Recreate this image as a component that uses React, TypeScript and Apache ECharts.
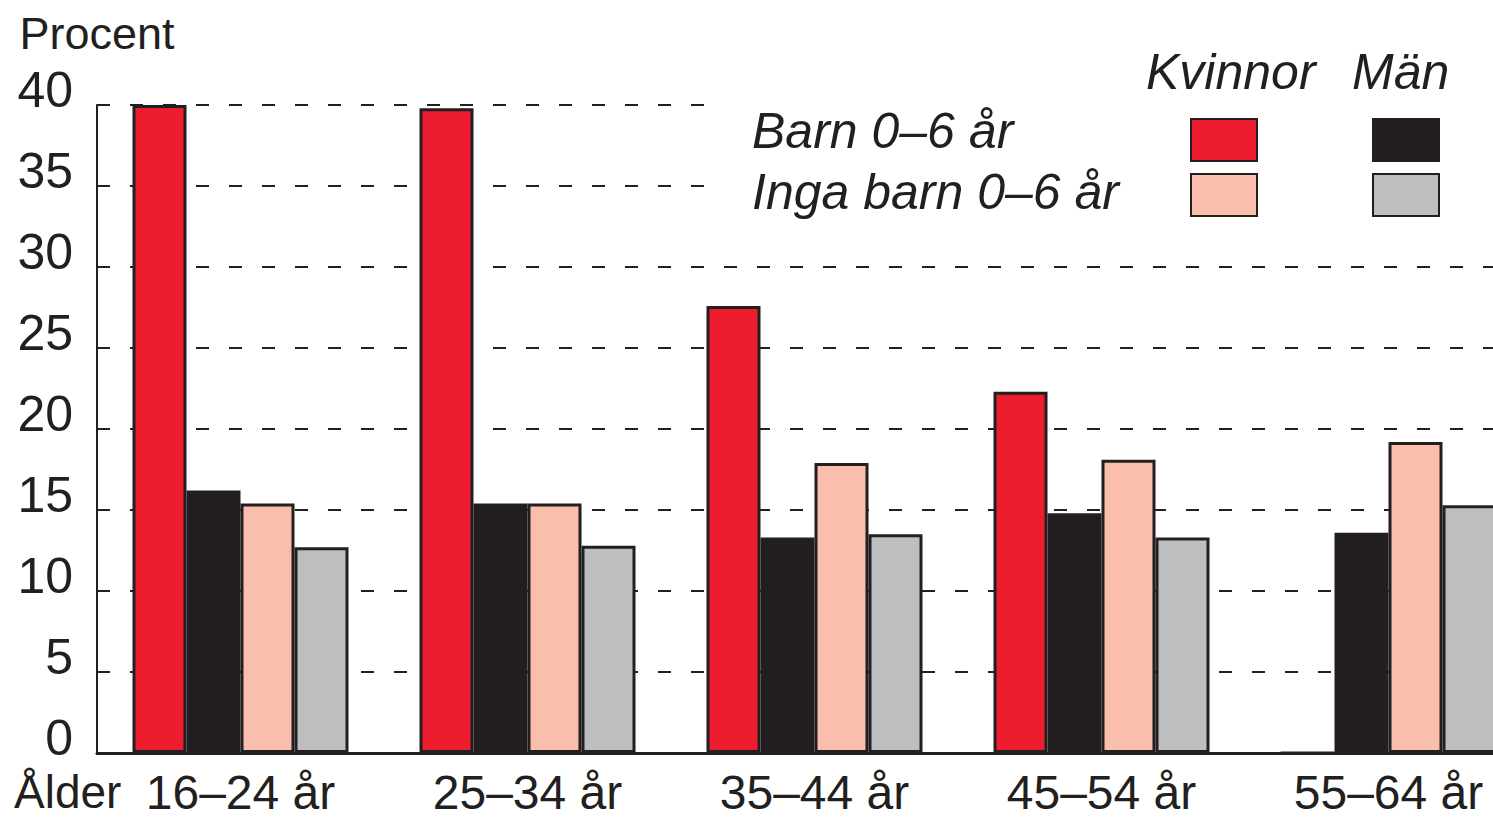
import React, { useEffect, useRef } from "react";
import * as echarts from "echarts";

const categories = ["16–24 år", "25–34 år", "35–44 år", "45–54 år", "55–64 år"];
const kvinnorBarn = [40, 39.8, 27.6, 22.3, 0];
const manBarn = [16.2, 15.4, 13.3, 14.8, 13.6];
const kvinnorIngaBarn = [15.4, 15.4, 17.9, 18.1, 19.2];
const manIngaBarn = [12.7, 12.8, 13.5, 13.3, 15.3];
const seriesNames = ["Kvinnor, barn 0–6 år", "Män, barn 0–6 år", "Kvinnor, inga barn 0–6 år", "Män, inga barn 0–6 år"];

const FONT = "'Liberation Sans', Arial, Helvetica, sans-serif";
const INK = "#231f20";
const COLORS = ["#ed1c2e", "#231f20", "#f9bfac", "#bcbec0"];

export default function App() {
  const ref = useRef<HTMLDivElement>(null);
  useEffect(() => {
    if (!ref.current) return;
    const chart = echarts.init(ref.current, null, { renderer: "svg" });
    const datasets = [kvinnorBarn, manBarn, kvinnorIngaBarn, manIngaBarn];
    const legendPos = [
      { left: 1190, top: 118 },
      { left: 1372, top: 118 },
      { left: 1190, top: 173 },
      { left: 1372, top: 173 },
    ];
    chart.setOption({
      animation: false,
      backgroundColor: "#ffffff",
      textStyle: { fontFamily: FONT, color: INK },
      grid: { left: 97, top: 105, height: 648, width: 1435, containLabel: false, outerBoundsMode: "none" },
      xAxis: {
        type: "category",
        data: categories,
        axisLine: { lineStyle: { color: INK, width: 3 } },
        axisTick: { show: false },
        axisLabel: { fontSize: 48, color: INK, fontFamily: FONT, margin: 24, lineHeight: 30 },
      },
      yAxis: {
        type: "value",
        min: 0,
        max: 40,
        interval: 5,
        name: "Procent",
        nameLocation: "end",
        nameGap: 49,
        nameTextStyle: { fontSize: 45, color: INK, fontFamily: FONT, align: "center" },
        axisLine: { show: true, lineStyle: { color: INK, width: 2 } },
        axisTick: { show: false },
        axisLabel: { fontSize: 50, color: INK, fontFamily: FONT, margin: 24, verticalAlign: "bottom", lineHeight: 31 },
        splitLine: { show: true, lineStyle: { color: INK, width: 2, type: [13, 20] } },
      },
      legend: legendPos.map((p, i) => ({
        data: [seriesNames[i]],
        left: p.left,
        top: p.top,
        padding: 0,
        itemWidth: 66,
        itemHeight: 42,
        icon: "rect",
        selectedMode: false,
        formatter: () => "",
        textStyle: { fontSize: 1 },
        z: 6,
      })),
      graphic: [
        { type: "rect", left: 712, top: 30, shape: { width: 781, height: 205 }, style: { fill: "#ffffff" }, z: 3 },
        { type: "text", left: 1146, top: 47, z: 7, style: { text: "Kvinnor", font: `italic 50px ${FONT}`, fill: INK } },
        { type: "text", left: 1352, top: 47, z: 7, style: { text: "Män", font: `italic 50px ${FONT}`, fill: INK } },
        { type: "text", left: 752, top: 106, z: 7, style: { text: "Barn 0–6 år", font: `italic 50px ${FONT}`, fill: INK } },
        { type: "text", left: 752, top: 167, z: 7, style: { text: "Inga barn 0–6 år", font: `italic 50px ${FONT}`, fill: INK } },
        { type: "text", left: 14, top: 769, z: 7, style: { text: "Ålder", font: `46px ${FONT}`, fill: INK } },
      ],
      series: datasets.map((d, i) => ({
        name: seriesNames[i],
        type: "bar",
        data: d,
        barWidth: 54,
        barGap: "0%",
        itemStyle: { color: COLORS[i], borderColor: INK, borderWidth: 3 },
        emphasis: { disabled: true },
      })),
    });
    return () => chart.dispose();
  }, []);
  return <div ref={ref} style={{ position: "fixed", left: 0, top: 0, width: 1493, height: 821 }} />;
}
